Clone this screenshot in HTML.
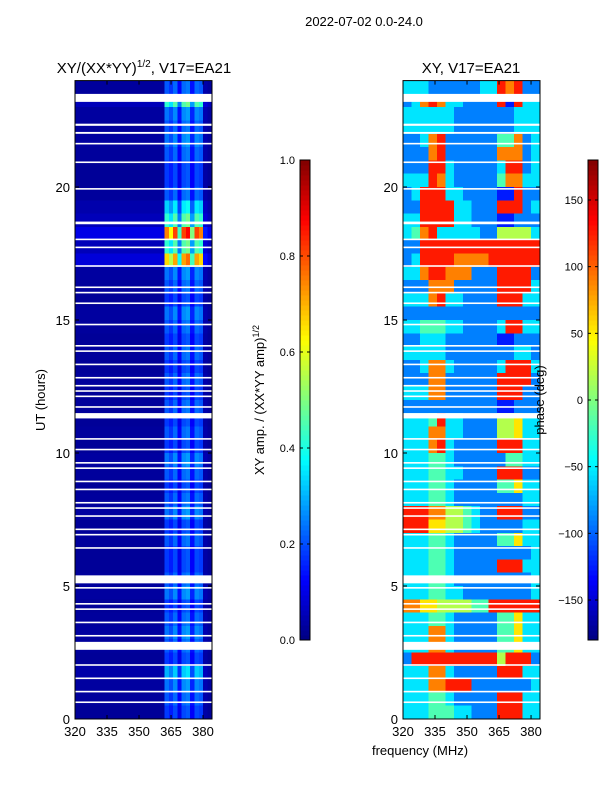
<!DOCTYPE html>
<html><head><meta charset="utf-8"><style>
html,body{margin:0;padding:0;background:#fff;}
svg text{font-family:"Liberation Sans",sans-serif;fill:#000;}
</style></head><body>
<svg id="fig" width="600" height="800" viewBox="0 0 600 800" xmlns="http://www.w3.org/2000/svg">
<text x="364" y="26" font-size="13" text-anchor="middle">2022-07-02 0.0-24.0</text>
<text x="144" y="73" font-size="15" text-anchor="middle">XY/(XX*YY)<tspan font-size="10" dy="-6">1/2</tspan><tspan dy="6">, V17=EA21</tspan></text>
<text x="471" y="73" font-size="15" text-anchor="middle">XY, V17=EA21</text>
<g id="left"></g>
<g id="right"></g>
<g id="axes"></g>
<text x="45" y="400" font-size="13" text-anchor="middle" transform="rotate(-90 45 400)">UT (hours)</text>
<text x="420" y="755" font-size="13" text-anchor="middle">frequency (MHz)</text>
<text x="264" y="400" font-size="13" text-anchor="middle" transform="rotate(-90 264 400)">XY amp. / (XX*YY amp)<tspan font-size="9" dy="-5">1/2</tspan></text>
<text x="544" y="400" font-size="13" text-anchor="middle" transform="rotate(-90 544 400)">phase (deg)</text>
</svg>
<script>
const phaseRows = [
"3332222223387822","2378733222281833","3333332222222333","3333332222222333",
"2237822222244723","2227822222277723","2228832222238823","3338732222247733",
"2388833222211822","2288883322288823","3388883322211222","3478333332255553",
"2288888888888888","2388887777888888","3378877722288882","2227772222288883",
"3337833222288833","2222222222222222","3344433222238833","2233322222211222",
"3333322222222332","2237732222238883","2227722222288882","3337722222288822",
"2222222222211222","3334833222255633","3337733222255633","3337832222288833",
"3334432222224433","3334433222288822","3334432222244633","3334432222222233",
"8887755432288822","8886655432222233","3334432222244633","3334432222222223",
"3334432222288833","3334432222222223","3334433222222223","7766555544888888",
"3334432222244633","3337732222244633","3337732222244633","2888888888858882",
"3337732222288833","3337788822222223","3334432222288833","3334443322288833"];
const ampColProfile = [0.08,0.08,0.08,0.08,0.08,0.08,0.08,0.08,0.08,0.08,0.08,0.08,0.08,0.08,0.08,0.08,0.08,0.08,0.08,0.08,0.08,
0.6,0.5,0.65,0.35,0.65,0.7,0.4,0.65,0.6,0.12,0.08];
const ampRowGain = [0.35,0.7,0.4,0.35,0.4,0.35,0.3,0.3,0.35,0.55,0.7,1.25,0.7,1.1,0.4,0.35,0.3,0.4,0.35,0.3,0.35,0.3,0.35,0.3,
0.35,0.3,0.35,0.3,0.4,0.35,0.3,0.35,0.4,0.3,0.35,0.3,0.3,0.35,0.4,0.3,0.35,0.4,0.35,0.3,0.5,0.4,0.35,0.3];
const flagStart = [23.2,22.3,22.0,21.6,20.9,19.9,18.6,18.0,17.7,17.0,16.2,16.0,15.6,14.8,14.0,13.8,13.3,12.8,12.5,12.3,12.1,11.7,11.3,10.5,10.1,9.6,9.4,8.9,8.6,8.1,7.9,7.6,7.1,6.9,6.4,5.1,4.9,4.3,4.1,3.6,3.1,2.6,2.0,1.5,1.0,0.6];
const flagEnd   = [23.5,22.38,22.07,21.66,20.96,19.96,18.7,18.06,17.76,17.06,16.26,16.06,15.66,14.86,14.06,13.86,13.36,12.86,12.56,12.36,12.16,11.76,11.5,10.56,10.16,9.66,9.46,8.96,8.66,8.16,7.96,7.66,7.16,6.96,6.46,5.4,4.96,4.36,4.16,3.66,3.16,2.9,2.06,1.56,1.06,0.66];
const xTicks = [320,335,350,365,380];
const yTicks = [0,5,10,15,20];
const ampTicks = [0.0,0.2,0.4,0.6,0.8,1.0];
const phaseTicks = [-150,-100,-50,0,50,100,150];

const NS="http://www.w3.org/2000/svg";
const PT=80.6, PB=719, LX0=75, RX0=403, PW=137;
const F0=320, F1=384.2;
const yH = h => PB - h*(PB-PT)/24;
const xF = (x0,f) => x0 + (f-F0)*PW/(F1-F0);
function jet(v){v=Math.max(0,Math.min(1,v));const c=t=>Math.round(255*Math.max(0,Math.min(1,1.5-Math.abs(4*v-t))));return `rgb(${c(3)},${c(2)},${c(1)})`;}
function mk(tag,attrs,parent){const e=document.createElementNS(NS,tag);for(const k in attrs)e.setAttribute(k,attrs[k]);parent.appendChild(e);return e;}
const L=document.getElementById('left'), R=document.getElementById('right'), A=document.getElementById('axes'), S=document.getElementById('fig');

ampRowGain.forEach((g,r)=>{
  const hTop=24-0.5*r, hBot=hTop-0.5;
  ampColProfile.forEach((p,c)=>{
    const f=F0+2*c;
    const e=mk('rect',{x:xF(LX0,f),y:yH(hTop),width:xF(LX0,Math.min(f+2,F1))-xF(LX0,f)+0.5,height:yH(hBot)-yH(hTop)+0.5,fill:jet(p*g),'shape-rendering':'crispEdges'},L);
    
    
  });
});
phaseRows.forEach((row,r)=>{
  const hTop=24-0.5*r, hBot=hTop-0.5;
  row.split('').forEach((d,c)=>{
    const f=F0+4*c;
    const e=mk('rect',{x:xF(RX0,f),y:yH(hTop),width:xF(RX0,Math.min(f+4,F1))-xF(RX0,f)+0.5,height:yH(hBot)-yH(hTop)+0.5,fill:jet((+d+0.5)/10),'shape-rendering':'crispEdges'},R);
    
    
  });
});
flagStart.forEach((s,i)=>{
  [LX0,RX0].forEach(x0=>{
    const e=mk('rect',{x:x0,y:yH(flagEnd[i]),width:PW,height:Math.max(1.5,yH(s)-yH(flagEnd[i])),fill:'#fff'},x0===LX0?L:R);
    
    
  });
});
[LX0,RX0].forEach((x0,pi)=>{
  const fr=mk('rect',{x:x0,y:PT,width:PW,height:PB-PT,fill:'none',stroke:'#000','stroke-width':1},A);
  
  
  xTicks.forEach(t=>{
    const x=xF(x0,t);
    mk('line',{x1:x,x2:x,y1:PB,y2:PB-4,stroke:'#000'},A);
    mk('line',{x1:x,x2:x,y1:PT,y2:PT+4,stroke:'#000'},A);
    const tx=mk('text',{x:x,y:PB+17,'font-size':13,'text-anchor':'middle'},S);
    tx.textContent=t;
    
    
  });
  yTicks.forEach(t=>{
    const y=yH(t);
    mk('line',{x1:x0,x2:x0+4,y1:y,y2:y,stroke:'#000'},A);
    mk('line',{x1:x0+PW,x2:x0+PW-4,y1:y,y2:y,stroke:'#000'},A);
    const tx=mk('text',{x:x0-5,y:y+5,'font-size':13,'text-anchor':'end'},S);
    tx.textContent=t;
    
    
  });
});
function colorbar(x0,vmin,vmax,ticks,fmt,name){
  const g=mk('g',{},S);
  
  
  const top=160,bot=640,n=96;
  for(let i=0;i<n;i++){
    mk('rect',{x:x0,y:bot-(i+1)*(bot-top)/n,width:10,height:(bot-top)/n+0.5,fill:jet((i+0.5)/n),'shape-rendering':'crispEdges'},g);
  }
  mk('rect',{x:x0,y:top,width:10,height:bot-top,fill:'none',stroke:'#000'},g);
  ticks.forEach(t=>{
    const y=bot-(t-vmin)/(vmax-vmin)*(bot-top);
    mk('line',{x1:x0,x2:x0+3,y1:y,y2:y,stroke:'#000'},g);
    mk('line',{x1:x0+10,x2:x0+7,y1:y,y2:y,stroke:'#000'},g);
    const tx=mk('text',{x:x0-5,y:y+4,'font-size':11,'text-anchor':'end'},g);
    tx.textContent=fmt(t);
    
    
  });
}
colorbar(300,0,1,ampTicks,t=>t.toFixed(1),'amplitude-colorbar');
colorbar(588,-180,180,phaseTicks,t=>t<0?'\u2212'+(-t):String(t),'phase-colorbar');
</script>
</body></html>
